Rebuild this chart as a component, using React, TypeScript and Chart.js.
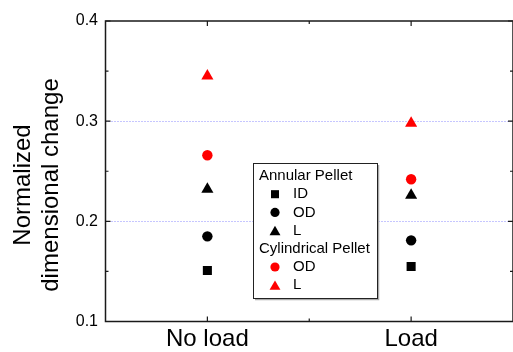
import React, { useEffect, useRef } from "react";
import { Chart, registerables } from "chart.js";

Chart.register(...registerables);

// ---- data ----
const categories = ["No load", "Load"];
const categoryPositions = [1, 2];
const annularID = [0.151, 0.155];
const annularOD = [0.185, 0.181];
const annularL = [0.232, 0.226];
const cylindricalOD = [0.266, 0.242];
const cylindricalL = [0.345, 0.298];
const yTicks = [0.1, 0.2, 0.3, 0.4];
const gridValues = [0.2, 0.3];
const yTitleLines = ["Normalized", "dimensional change"];
const legendGroups = [
  { title: "Annular Pellet", items: [0, 1, 2] },
  { title: "Cylindrical Pellet", items: [3, 4] },
];

const FONT = '"Liberation Sans", Arial, Helvetica, sans-serif';

const toPoints = (vals: number[]) =>
  vals.map((v, i) => ({ x: categoryPositions[i], y: v }));

function pointPath(ctx: CanvasRenderingContext2D, style: string, x: number, y: number, r: number) {
  ctx.beginPath();
  if (style === "rect") {
    const s = r * Math.SQRT1_2;
    ctx.rect(x - s, y - s, 2 * s, 2 * s);
  } else if (style === "triangle") {
    let rad = 0;
    ctx.moveTo(x + Math.sin(rad) * r, y - Math.cos(rad) * r);
    rad += (2 * Math.PI) / 3;
    ctx.lineTo(x + Math.sin(rad) * r, y - Math.cos(rad) * r);
    rad += (2 * Math.PI) / 3;
    ctx.lineTo(x + Math.sin(rad) * r, y - Math.cos(rad) * r);
    ctx.closePath();
  } else {
    ctx.arc(x, y, r, 0, Math.PI * 2);
  }
  ctx.fill();
}

const gridPlugin = {
  id: "dotGrid",
  beforeDatasetsDraw(chart: any) {
    const { ctx, chartArea: a, scales } = chart;
    ctx.save();
    ctx.strokeStyle = "rgb(140,140,255)";
    ctx.lineWidth = 1;
    ctx.setLineDash([1, 2]);
    ctx.beginPath();
    gridValues.forEach((v) => {
      const p = Math.round(scales.y.getPixelForValue(v)) + 0.5;
      ctx.moveTo(a.left, p);
      ctx.lineTo(a.right, p);
    });
    ctx.stroke();
    ctx.restore();
  },
};

const framePlugin = {
  id: "frame",
  afterDatasetsDraw(chart: any) {
    const { ctx, chartArea: a, scales } = chart;
    const xs = scales.x;
    const ys = scales.y;
    ctx.save();
    ctx.strokeStyle = "#1a1a1a";
    ctx.lineWidth = 1.5;
    ctx.strokeRect(a.left, a.top, a.right - a.left, a.bottom - a.top);
    ctx.lineWidth = 1.2;
    const major = 5;
    const minor = 3;
    ctx.beginPath();
    yTicks.forEach((v, i) => {
      const p = ys.getPixelForValue(v);
      ctx.moveTo(a.left, p); ctx.lineTo(a.left + major, p);
      ctx.moveTo(a.right, p); ctx.lineTo(a.right - major, p);
      if (i < yTicks.length - 1) {
        const m = ys.getPixelForValue((v + yTicks[i + 1]) / 2);
        ctx.moveTo(a.left, m); ctx.lineTo(a.left + minor, m);
        ctx.moveTo(a.right, m); ctx.lineTo(a.right - minor, m);
      }
    });
    categoryPositions.forEach((v, i) => {
      const p = xs.getPixelForValue(v);
      ctx.moveTo(p, a.bottom); ctx.lineTo(p, a.bottom - major);
      ctx.moveTo(p, a.top); ctx.lineTo(p, a.top + major);
      if (i < categoryPositions.length - 1) {
        const m = xs.getPixelForValue((v + categoryPositions[i + 1]) / 2);
        ctx.moveTo(m, a.bottom); ctx.lineTo(m, a.bottom - minor);
        ctx.moveTo(m, a.top); ctx.lineTo(m, a.top + minor);
      }
    });
    ctx.stroke();
    ctx.restore();
  },
};

const yTitlePlugin = {
  id: "yTitle",
  afterDraw(chart: any) {
    const { ctx } = chart;
    ctx.save();
    ctx.fillStyle = "#000";
    ctx.font = `24px ${FONT}`;
    ctx.textAlign = "center";
    ctx.textBaseline = "middle";
    const cy = 185;
    yTitleLines.forEach((t, i) => {
      ctx.save();
      ctx.translate(23.5 + i * 28, cy);
      ctx.rotate(-Math.PI / 2);
      ctx.fillText(t, 0, 0);
      ctx.restore();
    });
    ctx.restore();
  },
};

const legendPlugin = {
  id: "groupLegend",
  afterDraw(chart: any) {
    const { ctx } = chart;
    const box = { x: 253, y: 163, w: 124, h: 135 };
    ctx.save();
    ctx.fillStyle = "#fff";
    ctx.fillRect(box.x, box.y, box.w, box.h);
    ctx.strokeStyle = "#aaa";
    ctx.lineWidth = 1.5;
    ctx.beginPath();
    ctx.moveTo(box.x + 2, box.y + box.h + 1.5);
    ctx.lineTo(box.x + box.w + 1.5, box.y + box.h + 1.5);
    ctx.lineTo(box.x + box.w + 1.5, box.y + 2);
    ctx.stroke();
    ctx.strokeStyle = "#222";
    ctx.lineWidth = 1;
    ctx.strokeRect(box.x + 0.5, box.y + 0.5, box.w, box.h);
    ctx.font = `15px ${FONT}`;
    ctx.textBaseline = "middle";
    ctx.textAlign = "left";
    const rowH = 18.2;
    let y = 176;
    legendGroups.forEach((g) => {
      ctx.fillStyle = "#000";
      ctx.fillText(g.title, 259, y);
      y += rowH;
      g.items.forEach((idx) => {
        const ds = chart.data.datasets[idx];
        ctx.fillStyle = ds.backgroundColor;
        const r = ds.pointStyle === "rect" ? 5.7 : ds.pointStyle === "triangle" ? 6.3 : 4.6;
        const dy = ds.pointStyle === "triangle" ? 1.5 : 0;
        pointPath(ctx, ds.pointStyle, 275, y + dy, r);
        ctx.fillStyle = "#000";
        ctx.fillText(ds.label, 293, y);
        y += rowH;
      });
    });
    ctx.restore();
  },
};

export default function App() {
  const ref = useRef<HTMLCanvasElement | null>(null);
  useEffect(() => {
    if (!ref.current) return;
    const mk = (label: string, vals: number[], color: string, style: string, r: number) => ({
      label,
      data: toPoints(vals),
      backgroundColor: color,
      borderColor: color,
      borderWidth: 0,
      pointStyle: style,
      pointRadius: r,
      pointHoverRadius: r,
    });
    const chart = new Chart(ref.current, {
      type: "scatter",
      data: {
        datasets: [
          mk("ID", annularID, "#000000", "rect", 6.4),
          mk("OD", annularOD, "#000000", "circle", 5.2),
          mk("L", annularL, "#000000", "triangle", 7),
          mk("OD", cylindricalOD, "#ff0000", "circle", 5.2),
          mk("L", cylindricalL, "#ff0000", "triangle", 7),
        ] as any,
      },
      options: {
        responsive: false,
        animation: false,
        devicePixelRatio: 1,
        layout: { padding: { left: 0, top: 21, right: 4.5, bottom: 0 } },
        plugins: { legend: { display: false }, tooltip: { enabled: false } },
        scales: {
          x: {
            type: "linear",
            min: 0.5,
            max: 2.5,
            afterBuildTicks: (s: any) => {
              s.ticks = categoryPositions.map((v) => ({ value: v }));
            },
            afterFit: (s: any) => {
              s.height = 30.5;
            },
            ticks: {
              autoSkip: false,
              maxRotation: 0,
              padding: -2,
              color: "#000",
              font: { family: FONT, size: 24, lineHeight: 1 },
              callback: (v: any) => {
                const i = categoryPositions.indexOf(Number(v));
                return i >= 0 ? categories[i] : "";
              },
            },
            grid: { display: false },
            border: { display: false },
          },
          y: {
            type: "linear",
            min: 0.1,
            max: 0.4,
            afterBuildTicks: (s: any) => {
              s.ticks = yTicks.map((v) => ({ value: v }));
            },
            afterFit: (s: any) => {
              s.width = 105.5;
            },
            ticks: {
              padding: 7.5,
              color: "#000",
              font: { family: FONT, size: 16 },
              callback: (v: any) => Number(v).toFixed(1),
            },
            grid: { display: false, drawTicks: false },
            border: { display: false },
          },
        },
      } as any,
      plugins: [gridPlugin, framePlugin, yTitlePlugin, legendPlugin],
    });
    return () => chart.destroy();
  }, []);
  return (
    <div
      style={{
        position: "fixed",
        left: 0,
        top: 0,
        width: 513,
        height: 352,
        overflow: "hidden",
        background: "#fff",
      }}
    >
      <canvas ref={ref} width={520} height={352} style={{ display: "block", width: 520, height: 352 }} />
    </div>
  );
}
